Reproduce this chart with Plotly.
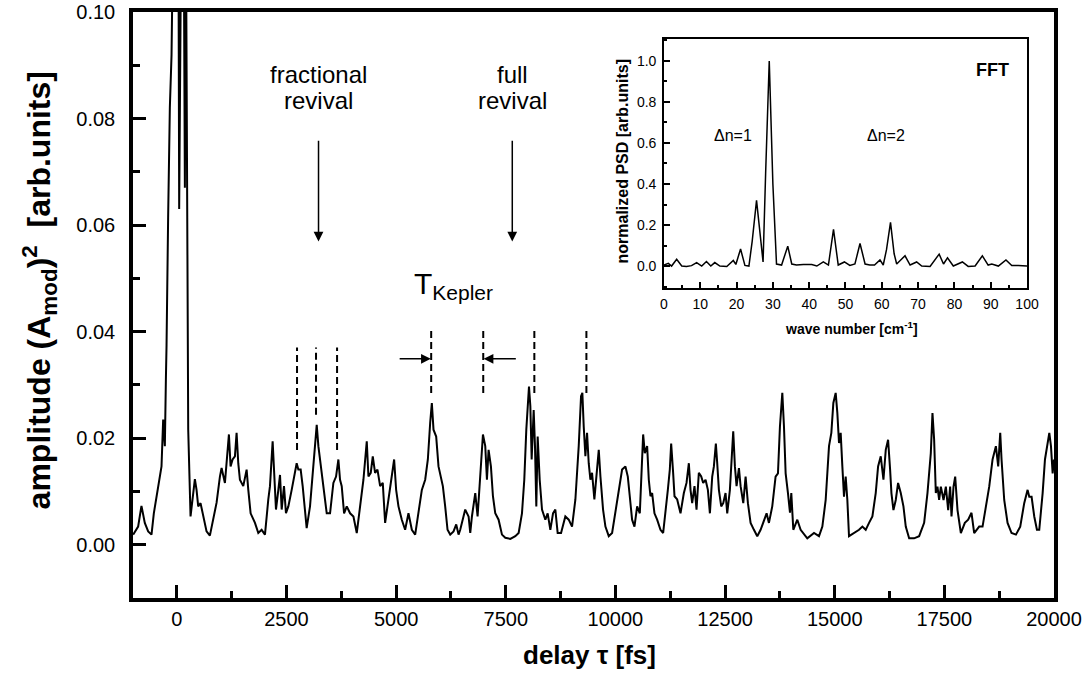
import plotly.graph_objects as go

# ---------------- main trace: delay (fs) vs amplitude ----------------
delay_1 = [-997, -883, -807, -731, -654, -578, -525, -464, -388, -350, -312, -274,
           -250, -235, -199, -160, -121, -84, -50, -10, 25, 53, 84, 120, 160, 183, 205, 259]
amp_1 = [0.0019, 0.0034, 0.0073, 0.0041, 0.0025, 0.0019, 0.0059, 0.0091, 0.0125, 0.0147, 0.0235, 0.0185,
         0.031, 0.0375, 0.0614, 0.082, 0.092, 0.115, 0.14, 0.12, 0.15, 0.063, 0.13, 0.14, 0.11, 0.067, 0.12, 0.0216]

delay_2 = [312, 373, 411, 449, 487, 540, 601, 677, 753, 830, 906, 982, 1020, 1096, 1157, 1187, 1225, 1271,
           1324, 1362, 1400, 1438, 1514, 1591, 1629, 1682, 1781, 1857, 1933, 2009, 2085, 2123, 2184, 2215,
           2260, 2314, 2352, 2390, 2443, 2488, 2542, 2618, 2656, 2732, 2770, 2823, 2869, 2922, 2960, 3036,
           3113, 3189, 3227, 3280, 3341, 3417, 3493, 3569, 3630, 3683, 3721, 3759, 3813, 3874, 3950, 4026,
           4102, 4178, 4254, 4330, 4368, 4421, 4467, 4520, 4574, 4635, 4695, 4749, 4825, 4901, 4954, 5000,
           5053, 5129, 5205, 5281, 5358, 5434, 5510, 5586, 5662, 5723, 5776, 5814, 5852, 5913, 5966, 6020,
           6065, 6118, 6172, 6233, 6309, 6370, 6423]
amp_2 = [0.0053, 0.0103, 0.0123, 0.0103, 0.0072, 0.0078, 0.0053, 0.0025, 0.0017, 0.0047, 0.0079, 0.0128,
         0.0144, 0.0116, 0.0172, 0.0207, 0.0147, 0.016, 0.0166, 0.021, 0.0153, 0.0122, 0.011, 0.0141, 0.0103,
         0.0059, 0.0041, 0.0022, 0.0028, 0.0019, 0.0085, 0.011, 0.0194, 0.0147, 0.0066, 0.0103, 0.0131, 0.0066,
         0.011, 0.0059, 0.0072, 0.0103, 0.0122, 0.0153, 0.0141, 0.0141, 0.011, 0.0059, 0.0031, 0.0072, 0.0153,
         0.0225, 0.0185, 0.0147, 0.0103, 0.0059, 0.0059, 0.0116, 0.0128, 0.016, 0.0122, 0.011, 0.0059, 0.0072,
         0.0059, 0.0053, 0.0022, 0.0072, 0.0122, 0.0194, 0.0128, 0.0135, 0.0166, 0.0135, 0.0141, 0.011, 0.0116,
         0.0041, 0.0085, 0.0122, 0.016, 0.0103, 0.0072, 0.0047, 0.0028, 0.0059, 0.0028, 0.0019, 0.0059, 0.0103,
         0.0122, 0.016, 0.0229, 0.0266, 0.0216, 0.0203, 0.0147, 0.0128, 0.011, 0.0072, 0.0028, 0.0019, 0.0025,
         0.0038, 0.0019]

delay_3 = [6461, 6575, 6652, 6690, 6728, 6804, 6857, 6918, 6979, 7032, 7070, 7108, 7161, 7207, 7260, 7336,
           7413, 7489, 7603, 7717, 7793, 7869, 7922, 7968, 7999, 8029, 8060, 8090, 8136, 8166, 8196, 8227,
           8273, 8326, 8402, 8455, 8516, 8577, 8630, 8683, 8760, 8858, 8935, 9011, 9087, 9163, 9216, 9246,
           9277, 9315, 9353, 9391, 9429, 9467, 9520, 9581, 9620, 9658, 9718, 9772, 9848, 9924]
amp_3 = [0.0028, 0.0066, 0.0053, 0.0022, 0.0053, 0.0097, 0.0053, 0.0122, 0.0207, 0.0185, 0.0122, 0.0178,
         0.0147, 0.0091, 0.0059, 0.0047, 0.0019, 0.0013, 0.0011, 0.0016, 0.0022, 0.0059, 0.0122, 0.0216,
         0.026, 0.0297, 0.026, 0.016, 0.0253, 0.0185, 0.0072, 0.0203, 0.0122, 0.0066, 0.0047, 0.0059, 0.0028,
         0.0059, 0.0066, 0.0022, 0.0022, 0.0053, 0.0047, 0.0034, 0.0085, 0.0185, 0.0279, 0.0285, 0.0222,
         0.0166, 0.021, 0.0153, 0.0122, 0.0135, 0.0085, 0.0147, 0.0178, 0.0128, 0.0066, 0.0034, 0.0016, 0.0022]

delay_4 = [10000, 10076, 10152, 10228, 10282, 10327, 10380, 10434, 10495, 10556, 10586, 10632, 10670, 10723,
           10761, 10799, 10837, 10890, 10951, 11027, 11088, 11142, 11195, 11240, 11271, 11316, 11347, 11408,
           11484, 11560, 11621, 11674, 11712, 11750, 11803, 11849, 11902, 11956, 12001, 12055, 12108, 12154,
           12207, 12245, 12290, 12321, 12359, 12412, 12458, 12511, 12549, 12610, 12648, 12686, 12724, 12762,
           12816, 12854, 12915, 12968, 13021, 13082, 13158, 13234, 13310, 13386, 13447, 13500]
amp_4 = [0.0059, 0.0103, 0.0141, 0.0147, 0.0128, 0.0091, 0.0047, 0.0034, 0.0072, 0.0059, 0.011, 0.0207,
         0.0172, 0.0185, 0.0122, 0.0091, 0.0097, 0.0059, 0.0047, 0.0028, 0.0022, 0.0059, 0.0103, 0.0141,
         0.019, 0.0135, 0.0091, 0.0085, 0.0059, 0.0097, 0.0116, 0.0153, 0.0103, 0.0078, 0.011, 0.0066, 0.0135,
         0.0128, 0.0116, 0.0122, 0.0103, 0.0059, 0.0128, 0.0147, 0.019, 0.0153, 0.0103, 0.0072, 0.0078,
         0.0097, 0.0059, 0.0103, 0.016, 0.0213, 0.0147, 0.011, 0.0144, 0.011, 0.0078, 0.0128, 0.0078, 0.0041,
         0.0028, 0.0016, 0.0028, 0.0047, 0.0059, 0.0041]

delay_5 = [13576, 13652, 13706, 13751, 13805, 13843, 13881, 13934, 13980, 14010, 14056, 14147, 14223, 14375,
           14528, 14642, 14718, 14794, 14870, 14923, 14969, 15022, 15060, 15098, 15136, 15174, 15212, 15250,
           15288, 15326, 15441, 15555, 15631, 15707, 15783, 15859, 15935, 15989, 16050, 16111, 16164, 16217,
           16263, 16293, 16339, 16392, 16445, 16506, 16567, 16620, 16697, 16811]
amp_5 = [0.0072, 0.0128, 0.0134, 0.0222, 0.0285, 0.0222, 0.0134, 0.0097, 0.006, 0.0097, 0.0028, 0.0047,
         0.0028, 0.0012, 0.0022, 0.0016, 0.0034, 0.0084, 0.0185, 0.021, 0.0266, 0.0285, 0.0247, 0.0191, 0.021,
         0.0147, 0.009, 0.0128, 0.0084, 0.0016, 0.0022, 0.0028, 0.0034, 0.0028, 0.0041, 0.0053, 0.0097, 0.0147,
         0.0166, 0.0122, 0.0178, 0.0197, 0.0141, 0.0097, 0.0065, 0.0084, 0.0116, 0.0097, 0.0072, 0.0034,
         0.0012, 0.0012]

delay_6 = [16925, 17039, 17115, 17191, 17229, 17267, 17305, 17343, 17381, 17420, 17481, 17534, 17587, 17632,
           17663, 17709, 17747, 17800, 17876, 17967, 18043, 18119, 18180, 18294, 18371, 18447, 18523, 18599,
           18675, 18728, 18774, 18804, 18865, 18941, 19032, 19132, 19230, 19321, 19398, 19436, 19489, 19550,
           19611, 19664, 19741, 19794, 19855, 19893, 19931, 19969, 20000]
amp_6 = [0.0016, 0.0041, 0.0097, 0.0172, 0.0247, 0.0197, 0.0097, 0.0109, 0.0084, 0.0109, 0.0084, 0.0109,
         0.0065, 0.0109, 0.0053, 0.0109, 0.0128, 0.0065, 0.0022, 0.0041, 0.0047, 0.006, 0.0022, 0.0034, 0.0034,
         0.0072, 0.0109, 0.016, 0.0185, 0.0147, 0.021, 0.016, 0.0084, 0.0041, 0.0022, 0.0019, 0.0034, 0.0078,
         0.0103, 0.009, 0.009, 0.0053, 0.0028, 0.0028, 0.0097, 0.016, 0.0197, 0.021, 0.0185, 0.0134, 0.016]

# ---------------- inset: FFT power spectrum ----------------
wave_number = [0, 1.2, 2.1, 3.5, 4.9, 6.2, 7.6, 9.0, 10.4, 11.7, 12.9, 14.0, 15.4, 17.3, 19.1, 19.8, 21.1,
               22.3, 23.4, 24.3, 25.5, 26.6, 27.3, 28.0, 29.0, 30.0, 31.0, 32.4, 34.1, 35.2, 36.5, 38.4,
               40.7, 42.1, 43.9, 45.3, 46.7, 48.0, 49.7, 51.2, 52.6, 54.0, 55.4, 56.7, 58.0, 59.5, 60.4,
               61.3, 62.4, 63.4, 64.1, 66.4, 67.8, 69.6, 71.0, 73.3, 75.8, 77.0, 78.1, 79.7, 82.2, 83.8,
               85.7, 87.7, 89.3, 90.3, 92.1, 94.2, 95.8, 97.6, 99.5, 100]
psd = [0.005, 0.013, 0.0, 0.033, 0.0, -0.002, 0.002, 0.017, 0.0, 0.022, 0.0, 0.017, 0.0, -0.002, 0.027,
       0.008, 0.083, 0.003, 0.0, 0.12, 0.32, 0.12, 0.02, 0.45, 1.0, 0.4, 0.01, 0.005, 0.097, 0.01, 0.005,
       0.008, 0.007, 0.0, 0.02, 0.005, 0.179, 0.005, 0.02, 0.003, 0.01, 0.11, 0.01, 0.005, 0.005, 0.03,
       0.005, 0.08, 0.213, 0.06, 0.01, 0.05, 0.005, 0.02, 0.0, -0.002, 0.058, 0.01, 0.04, 0.0, 0.02,
       -0.002, 0.0, 0.05, 0.005, 0.01, 0.0, 0.03, 0.003, 0.003, 0.0, 0.0]

# annotation marks (data coordinates)
dash_delays_a = [2740, 3173, 3653]
dash_top_a = [0.037, 0.037, 0.037]
dash_bot_a = [0.0178, 0.0244, 0.0178]
dash_delays_b = [5799, 6986, 8151, 9338]
dash_top_b = 0.0408
dash_bot_b = 0.0285

pairs = [(delay_1, amp_1), (delay_2, amp_2), (delay_3, amp_3), (delay_4, amp_4), (delay_5, amp_5), (delay_6, amp_6)]
delay, amp = [], []
for d, a in pairs:
    assert len(d) == len(a), (len(d), len(a))
    delay += d
    amp += a
assert len(wave_number) == len(psd)

FONT = "Liberation Sans, Arial, Helvetica, sans-serif"

fig = go.Figure()
fig.add_trace(go.Scatter(x=delay, y=amp, mode="lines", line=dict(color="black", width=2),
                         xaxis="x", yaxis="y", showlegend=False))
fig.add_trace(go.Scatter(x=wave_number, y=psd, mode="lines", line=dict(color="black", width=1.5),
                         xaxis="x2", yaxis="y2", showlegend=False))

ax_common = dict(showgrid=False, zeroline=False, showline=True, linecolor="black", mirror=True,
                 ticks="inside", tickcolor="black", automargin=False)

fig.update_layout(
    width=1089, height=685,
    margin=dict(l=133, r=35, t=12, b=87, autoexpand=False),
    paper_bgcolor="white", plot_bgcolor="white",
    font=dict(family=FONT, color="black"),
    xaxis=dict(**ax_common, range=[-1000, 20000], linewidth=3.5, tickmode="linear", tick0=0, dtick=2500,
               tickformat="d", ticklen=13, tickwidth=3, tickfont=dict(size=20), ticklabelstandoff=0,
               minor=dict(ticks="inside", tick0=0, dtick=1250, ticklen=7, tickwidth=3, tickcolor="black")),
    yaxis=dict(**ax_common, range=[-0.01, 0.10], linewidth=3.5, tickmode="linear", tick0=0, dtick=0.02,
               tickformat=".2f", ticklen=13, tickwidth=3, tickfont=dict(size=20), ticklabelstandoff=10,
               minor=dict(ticks="inside", tick0=0, dtick=0.01, ticklen=7, tickwidth=3, tickcolor="black")),
    xaxis2=dict(**ax_common, domain=[0.5765, 0.9707], anchor="y2", range=[0, 100], linewidth=1.5,
                tickmode="linear", tick0=0, dtick=10, ticklen=6, tickwidth=1.5, tickfont=dict(size=14),
                ticklabelstandoff=2,
                minor=dict(ticks="inside", tick0=0, dtick=5, ticklen=3, tickwidth=1.5, tickcolor="black")),
    yaxis2=dict(**ax_common, domain=[0.529, 0.954], anchor="x2", range=[-0.107, 1.107], linewidth=1.5,
                tickmode="linear", tick0=0, dtick=0.2, tickformat=".1f", ticklen=6, tickwidth=1.5,
                tickfont=dict(size=14), ticklabelstandoff=3,
                minor=dict(ticks="inside", tick0=0, dtick=0.1, ticklen=3, tickwidth=1.5, tickcolor="black")),
)

shapes = []
for xd, yt, yb in zip(dash_delays_a, dash_top_a, dash_bot_a):
    shapes.append(dict(type="line", xref="x", yref="y", x0=xd, x1=xd, y0=yb, y1=yt,
                       line=dict(color="black", width=2, dash="7px,4px")))
for xd in dash_delays_b:
    shapes.append(dict(type="line", xref="x", yref="y", x0=xd, x1=xd, y0=dash_bot_b, y1=dash_top_b,
                       line=dict(color="black", width=2, dash="7px,4px")))
fig.update_layout(shapes=shapes)

C = dict(xanchor="center", yanchor="middle", showarrow=False)
ann = []
txt_font = dict(family=FONT, size=24, color="black")
ann += [
    dict(x=3219, y=0.0883, xref="x", yref="y", text="fractional", font=txt_font, **C),
    dict(x=3219, y=0.0834, xref="x", yref="y", text="revival", font=txt_font, **C),
    dict(x=7648, y=0.0883, xref="x", yref="y", text="full", font=txt_font, **C),
    dict(x=7648, y=0.0834, xref="x", yref="y", text="revival", font=txt_font, **C),
    dict(x=6301, y=0.0486, xref="x", yref="y", text="T<sub>Kepler</sub>",
         font=dict(family=FONT, size=30, color="black"), **C),
]
arrow_style = dict(showarrow=True, arrowhead=2, arrowsize=1.3, arrowwidth=1.5, arrowcolor="black",
                   xref="x", yref="y", axref="x", ayref="y", text="", standoff=0, startstandoff=0)
ann += [
    dict(x=3230, y=0.0569, ax=3230, ay=0.0761, **arrow_style),
    dict(x=7648, y=0.0569, ax=7648, ay=0.0761, **arrow_style),
    dict(x=5790, y=0.0349, ax=5046, ay=0.0349, **arrow_style),
    dict(x=6995, y=0.0349, ax=7763, ay=0.0349, **arrow_style),
]
# inset labels
ann += [
    dict(x=90.6, y=0.956, xref="x2", yref="y2", text="<b>FFT</b>",
         font=dict(family=FONT, size=18, color="black"), **C),
    dict(x=19.0, y=0.634, xref="x2", yref="y2", text="Δn=1",
         font=dict(family=FONT, size=16, color="black"), **C),
    dict(x=61.2, y=0.634, xref="x2", yref="y2", text="Δn=2",
         font=dict(family=FONT, size=16, color="black"), **C),
    dict(x=0.531, y=0.745, xref="paper", yref="paper", text="<b>normalized PSD [arb.units]</b>",
         textangle=-90, font=dict(family=FONT, size=16, color="black"), **C),
    dict(x=0.78, y=0.461, xref="paper", yref="paper", text="<b>wave number [cm<sup>-1</sup>]</b>",
         font=dict(family=FONT, size=14, color="black"), **C),
]
# main axis titles
ann += [
    dict(x=-0.102, y=0.525, xref="paper", yref="paper",
         text="<b>amplitude (A<sub>mod</sub>)<sup>2</sup>  [arb.units]</b>",
         textangle=-90, font=dict(family=FONT, size=32, color="black"), **C),
    dict(x=0.496, y=-0.097, xref="paper", yref="paper", text="<b>delay τ [fs]</b>",
         font=dict(family=FONT, size=26, color="black"), **C),
]
fig.update_layout(annotations=ann)

fig.write_html("out.html", config={"displayModeBar": False},
               post_script="document.body.style.margin='0px';")
